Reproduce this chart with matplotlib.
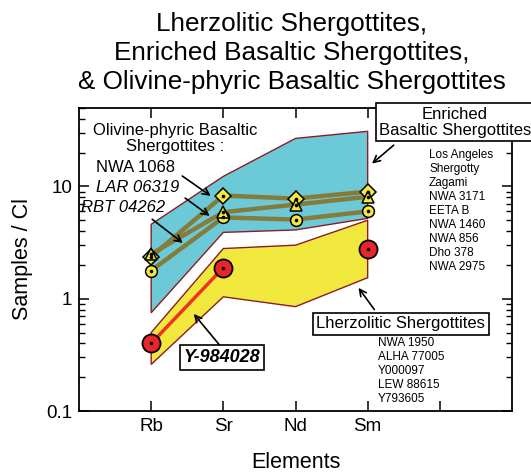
import numpy as np
import matplotlib
matplotlib.use("Agg")
import matplotlib.pyplot as plt

plt.rcParams["font.family"] = ["Liberation Sans", "DejaVu Sans"]

# elements on the x axis (position 5 is an unlabelled tick)
elements = ["Rb", "Sr", "Nd", "Sm"]
xpos = [1, 2, 3, 4]

# field envelopes (sample / CI)
enriched_upper = [4.6, 12.3, 26.8, 31.0]
enriched_lower = [0.75, 3.9, 4.1, 5.2]
lherz_upper = [0.50, 2.8, 3.0, 5.0]
lherz_lower = [0.26, 1.04, 0.85, 1.54]

# olivine-phyric basaltic shergottites
nwa1068 = [2.37, 8.3, 7.8, 9.0]
lar06319 = [2.5, 5.9, 6.9, 8.1]
rbt04262 = [1.78, 5.3, 5.07, 6.0]

# Y-984028 (no Nd value)
y984028 = [0.40, 1.89, np.nan, 2.79]

enriched_names = ["Los Angeles", "Shergotty", "Zagami", "NWA 3171", "EETA B",
                  "NWA 1460", "NWA 856", "Dho 378", "NWA 2975"]
lherz_names = ["NWA 1950", "ALHA 77005", "Y000097", "LEW 88615", "Y793605"]

fig = plt.figure(figsize=(5.31, 4.72), dpi=100)
ax = fig.add_axes([79 / 531, 61 / 472, 433 / 531, 303 / 472])

edge = "#8b1c24"
ax.fill(xpos + xpos[::-1], enriched_upper + enriched_lower[::-1],
        facecolor="#6ccad8", edgecolor=edge, lw=1.0, zorder=1)
ax.fill(xpos + xpos[::-1], lherz_upper + lherz_lower[::-1],
        facecolor="#f0e83c", edgecolor=edge, lw=1.0, zorder=1)

olive = "#857c3b"
yel = "#f5ea3c"
for vals in (rbt04262, nwa1068, lar06319):
    ax.plot(xpos, vals, color=olive, lw=3.2, zorder=2)

ax.plot(xpos, rbt04262, ls="none", marker="o", ms=8.5, mfc=yel, mec="k",
        mew=1.1, zorder=3)
ax.plot(xpos, nwa1068, ls="none", marker="D", ms=8, mfc=yel, mec="k",
        mew=1.1, zorder=4)
ax.plot(xpos, lar06319, ls="none", marker="^", ms=9, mfc=yel, mec="k",
        mew=1.1, zorder=5)
for vals in (rbt04262, nwa1068, lar06319):
    ax.plot(xpos, vals, ls="none", marker="o", ms=1.6, color="k", zorder=6)

ax.plot(xpos, y984028, color="#ee3324", lw=2.5, zorder=3)
ax.plot(xpos, y984028, ls="none", marker="o", ms=13, mfc="#e8262a",
        mec="k", mew=1.3, zorder=6)
ax.plot(xpos, y984028, ls="none", marker="o", ms=1.6, color="k", zorder=7)

ax.set_yscale("log")
ax.set_ylim(0.1, 50)
ax.set_xlim(0, 6)
ax.set_xticks([1, 2, 3, 4, 5])
ax.set_xticklabels(elements + [""])
ax.set_yticks([0.1, 1, 10])
ax.set_yticklabels(["0.1", "1", "10"])
ax.tick_params(which="both", direction="in", top=True, right=True,
               labelsize=13.5, pad=5)
ax.tick_params(which="major", length=7, width=1.1)
ax.tick_params(which="minor", length=4, width=1.0)
for sp in ax.spines.values():
    sp.set_linewidth(1.3)
ax.set_ylabel("Samples / Cl", fontsize=15.5, labelpad=9)
ax.set_xlabel("Elements", fontsize=15.5, labelpad=12)

fig.text(0.55, 0.888, "Lherzolitic Shergottites,\nEnriched Basaltic Shergottites,\n"
         "& Olivine-phyric Basaltic Shergottites", ha="center", va="center",
         fontsize=18.8, linespacing=1.25)

# olivine-phyric labels
ax.text(1.33, 26.8, "Olivine-phyric Basaltic\nShergottites :", ha="center",
        va="center", fontsize=12, linespacing=1.05, zorder=8)
ax.text(0.236, 14.8, "NWA 1068", ha="left", va="center", fontsize=12, zorder=8)
ax.text(0.236, 9.8, "LAR 06319", ha="left", va="center", fontsize=12,
        style="italic", zorder=8)
ax.text(0.03, 6.49, "RBT 04262", ha="left", va="center", fontsize=12,
        style="italic", zorder=8)

arrow = dict(arrowstyle="->", color="k", lw=1.2, mutation_scale=12)
ax.annotate("", xy=(1.857, 7.98), xytext=(1.40, 12.8), arrowprops=arrow, zorder=8)
ax.annotate("", xy=(1.843, 5.28), xytext=(1.44, 8.15), arrowprops=arrow, zorder=8)
ax.annotate("", xy=(1.469, 3.03), xytext=(0.984, 5.28), arrowprops=arrow, zorder=8)

# enriched basaltic label
box = dict(boxstyle="square,pad=0.2", fc="white", ec="k", lw=1.2)
ax.text(5.21, 37.3, "Enriched\nBasaltic Shergottites", ha="center", va="center",
        fontsize=12, linespacing=1.1, bbox=box, clip_on=False, zorder=9)
ax.annotate("", xy=(4.03, 15.4), xytext=(4.39, 24.2), arrowprops=arrow, zorder=8)
ax.text(4.85, 21.5, "\n".join(enriched_names), ha="left", va="top",
        fontsize=8.5, linespacing=1.22, zorder=8)

# lherzolitic label
ax.text(4.46, 0.598, "Lherzolitic Shergottites", ha="center", va="center",
        fontsize=12, bbox=box, zorder=9)
ax.annotate("", xy=(3.85, 1.31), xytext=(4.115, 0.765), arrowprops=arrow, zorder=8)
ax.text(4.14, 0.455, "\n".join(lherz_names), ha="left", va="top",
        fontsize=8.5, linespacing=1.22, zorder=8)

# Y-984028 label
ax.text(1.98, 0.30, "Y-984028", ha="center", va="center", fontsize=13,
        weight="bold", style="italic", bbox=box, zorder=9)
ax.annotate("", xy=(1.566, 0.765), xytext=(1.98, 0.365), arrowprops=arrow, zorder=8)

fig.savefig("out.png", dpi=100)
